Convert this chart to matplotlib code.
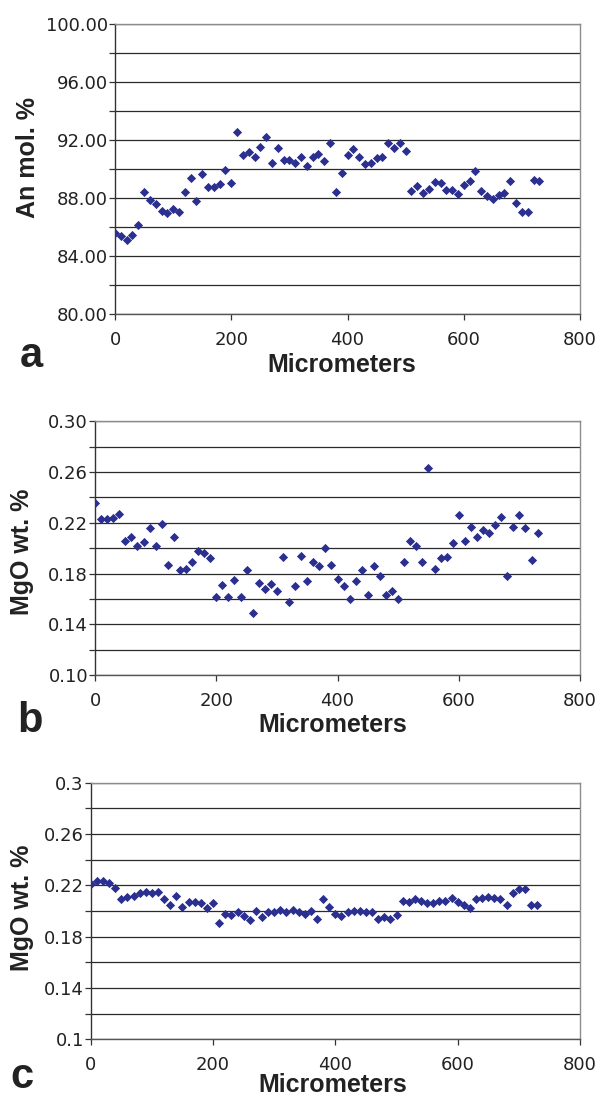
import matplotlib
matplotlib.use("Agg")
import matplotlib.pyplot as plt
from matplotlib.ticker import FixedLocator, MultipleLocator, FormatStrFormatter

# Distance along the profile (micrometers)
distance = [0, 10, 20, 30, 40, 50, 60, 70, 80, 90,
            100, 110, 120, 130, 140, 150, 160, 170, 180, 190,
            200, 210, 220, 230, 240, 250, 260, 270, 280, 290,
            300, 310, 320, 330, 340, 350, 360, 370, 380, 390,
            400, 410, 420, 430, 440, 450, 460, 470, 480, 490,
            500, 510, 520, 530, 540, 550, 560, 570, 580, 590,
            600, 610, 620, 630, 640, 650, 660, 670, 680, 690,
            700, 710, 720, 730]

# Panel a: anorthite content
an_mol = [85.56, 85.40, 85.13, 85.45, 86.14, 88.41, 87.86, 87.59, 87.13, 86.99,
          87.24, 87.06, 88.41, 89.40, 87.77, 89.66, 88.74, 88.74, 88.97, 89.93,
          89.01, 92.55, 90.94, 91.15, 90.80, 91.54, 92.18, 90.44, 91.45, 90.62,
          90.60, 90.44, 90.83, 90.23, 90.83, 91.03, 90.57, 91.79, 88.43, 89.72,
          90.97, 91.40, 90.83, 90.37, 90.44, 90.76, 90.83, 91.79, 91.47, 91.79,
          91.22, 88.51, 88.83, 88.37, 88.64, 89.08, 89.03, 88.57, 88.57, 88.30,
          88.90, 89.15, 89.86, 88.51, 88.16, 87.95, 88.23, 88.34, 89.15, 87.66,
          87.01, 87.01, 89.26, 89.19]

# Panel b: MgO, raw analyses
mgo_b = [0.236, 0.223, 0.223, 0.224, 0.227, 0.206, 0.209, 0.202, 0.205, 0.216,
         0.202, 0.219, 0.187, 0.209, 0.183, 0.184, 0.189, 0.198, 0.196, 0.192,
         0.162, 0.171, 0.162, 0.175, 0.162, 0.183, 0.149, 0.173, 0.168, 0.172,
         0.166, 0.193, 0.158, 0.170, 0.194, 0.174, 0.189, 0.186, 0.200, 0.187,
         0.176, 0.170, 0.160, 0.174, 0.183, 0.163, 0.186, 0.178, 0.163, 0.166,
         0.160, 0.189, 0.206, 0.202, 0.189, 0.263, 0.184, 0.192, 0.193, 0.204,
         0.226, 0.206, 0.217, 0.209, 0.214, 0.212, 0.218, 0.225, 0.178, 0.217,
         0.226, 0.216, 0.191, 0.212]

# Panel c: MgO, smoothed
mgo_c = [0.221, 0.223, 0.223, 0.222, 0.218, 0.209, 0.211, 0.212, 0.214, 0.215,
         0.214, 0.215, 0.209, 0.205, 0.212, 0.203, 0.207, 0.207, 0.206, 0.202,
         0.206, 0.191, 0.198, 0.197, 0.199, 0.196, 0.193, 0.200, 0.195, 0.199,
         0.199, 0.201, 0.199, 0.201, 0.199, 0.198, 0.200, 0.194, 0.209, 0.203,
         0.198, 0.196, 0.199, 0.200, 0.200, 0.199, 0.199, 0.194, 0.195, 0.194,
         0.197, 0.208, 0.207, 0.209, 0.208, 0.206, 0.206, 0.208, 0.208, 0.210,
         0.207, 0.205, 0.202, 0.209, 0.210, 0.211, 0.210, 0.209, 0.205, 0.214,
         0.217, 0.217, 0.205, 0.205]

an_ticks = [80, 84, 88, 92, 96, 100]
an_minor = [82, 86, 90, 94, 98]
mgo_ticks = [0.10, 0.14, 0.18, 0.22, 0.26, 0.30]
mgo_minor = [0.12, 0.16, 0.20, 0.24, 0.28]

marker_color = "#2b2f8f"
label_font = ["Liberation Sans Narrow", "Liberation Sans"]

plt.rcParams["font.family"] = ["DejaVu Sans"]

fig = plt.figure(figsize=(6.06, 10.95), dpi=100)

panels = [
    # rect, y values, ylim, major ticks, minor ticks, tick format
    ([0.1898, 0.7132, 0.7673, 0.2648], an_mol, (80, 100), an_ticks, an_minor, "%.2f"),
    ([0.1568, 0.3833, 0.8003, 0.2320], mgo_b, (0.10, 0.30), mgo_ticks, mgo_minor, "%.2f"),
    ([0.1497, 0.0509, 0.8074, 0.2343], mgo_c, (0.10, 0.30), mgo_ticks, mgo_minor, "%g"),
]

axes = []
for rect, yvals, ylim, major, minor, fmt in panels:
    ax = fig.add_axes(rect)
    ax.scatter(distance, yvals, marker="D", s=22, color=marker_color,
               linewidths=0, zorder=3)
    ax.set_xlim(0, 800)
    ax.set_ylim(*ylim)
    ax.xaxis.set_major_locator(MultipleLocator(200))
    ax.yaxis.set_major_locator(FixedLocator(major))
    ax.yaxis.set_minor_locator(FixedLocator(minor))
    ax.yaxis.set_major_formatter(FormatStrFormatter(fmt))
    ax.grid(True, axis="y", which="both", color="#2a2a2a", linewidth=0.9)
    ax.set_axisbelow(True)
    ax.tick_params(axis="both", which="both", direction="out", length=4,
                   width=0.9, color="#333333", labelsize=13, labelcolor="#222222")
    ax.tick_params(axis="y", which="both", pad=1)
    ax.tick_params(axis="x", pad=8)
    ax.spines["left"].set_color("#333333")
    ax.spines["bottom"].set_color("#555555")
    ax.spines["top"].set_color("#8c8c8c")
    ax.spines["right"].set_color("#8c8c8c")
    for sp in ax.spines.values():
        sp.set_linewidth(1.0)
    axes.append(ax)

# axis titles and panel letters, placed in pixel coordinates
W, H = 606, 1095
ylabels = [("An mol. %", 28, 157), ("MgO wt. %", 22, 552), ("MgO wt. %", 22, 908)]
for text, px, py in ylabels:
    fig.text(px / W, 1 - py / H, text, rotation=90, ha="center", va="center",
             fontsize=18, fontweight="bold", family=label_font, color="#222222")

xlabels = [(342, 372), (333, 732), (333, 1092)]
for px, py in xlabels:
    fig.text(px / W, 1 - py / H, "Micrometers", ha="center", va="baseline",
             fontsize=18, fontweight="bold", family=label_font, color="#222222")

letters = [("a", 20, 367), ("b", 17, 732), ("c", 10, 1088)]
for text, px, py in letters:
    fig.text(px / W, 1 - py / H, text, ha="left", va="baseline",
             fontsize=30, fontweight="bold", family=["Liberation Sans"],
             color="#222222")

fig.savefig("out.png", dpi=100)
